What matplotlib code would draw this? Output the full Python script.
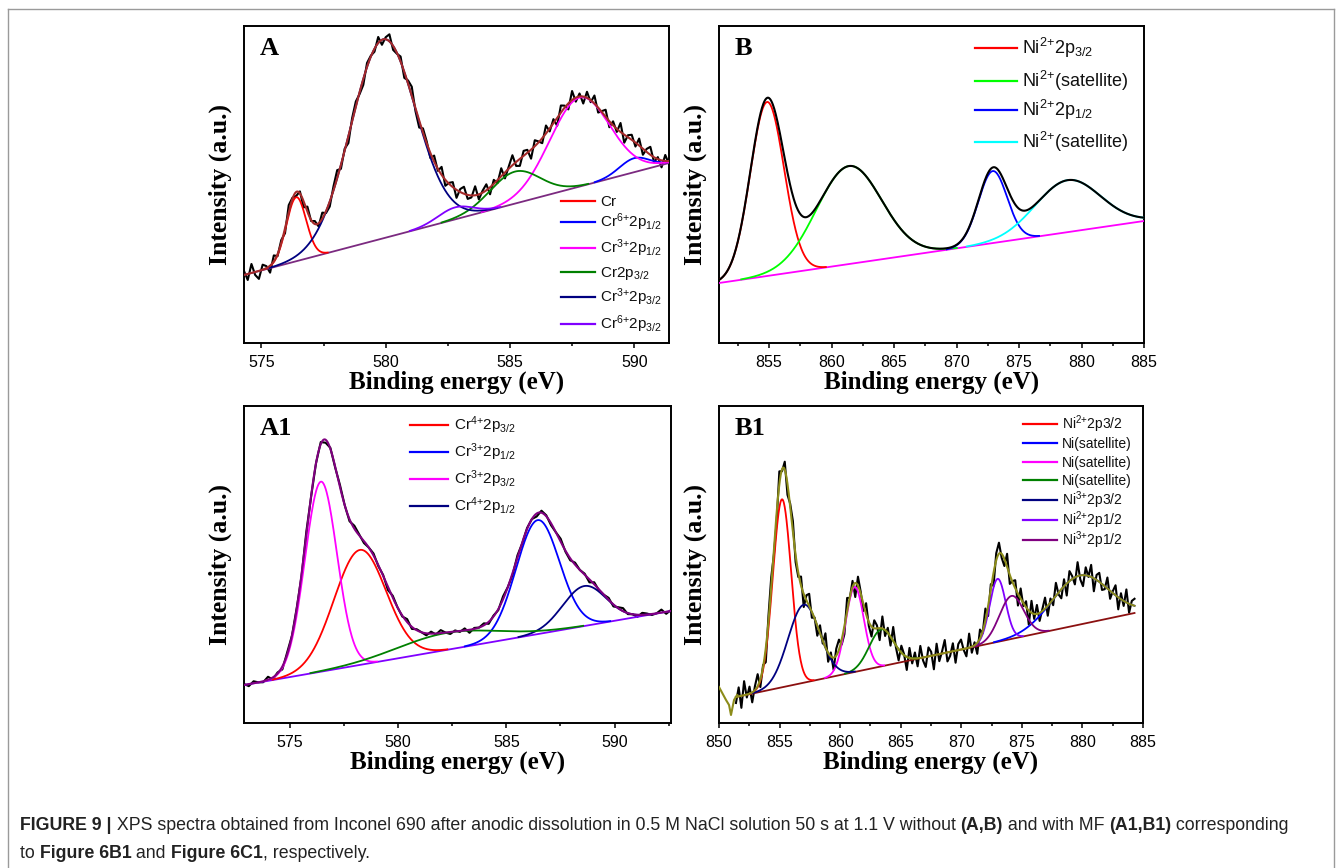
import numpy as np
import matplotlib.pyplot as plt
from matplotlib.lines import Line2D
from matplotlib.ticker import MultipleLocator

plt.rcParams['font.family'] = ['Liberation Sans', 'DejaVu Sans']
plt.rcParams['mathtext.fontset'] = 'custom'
plt.rcParams['mathtext.rm'] = 'Liberation Sans'
plt.rcParams['mathtext.it'] = 'Liberation Sans:italic'
plt.rcParams['mathtext.bf'] = 'Liberation Sans:bold'
plt.rcParams['mathtext.default'] = 'regular'

W, H = 1342, 868

# ---------------- panel A : Cr 2p, without MF ----------------
a_xlim = (574.3, 591.4)
a_ticks = [575, 580, 585, 590]
a_bg_e = [574.3, 591.4]
a_bg_i = [68, 180]
a_labels = ['Cr', 'Cr$^{6{+}}$2p$_{1/2}$', 'Cr$^{3{+}}$2p$_{1/2}$', 'Cr2p$_{3/2}$',
            'Cr$^{3{+}}$2p$_{3/2}$', 'Cr$^{6{+}}$2p$_{3/2}$']
a_colors = ['#ff0000', '#0000ff', '#ff00ff', '#008000', '#000080', '#8000ff']
a_center = [576.4, 590.0, 587.8, 585.2, 579.9, 582.8]
a_height = [64, 14, 89, 32, 199, 12]
a_sigma = [0.40, 0.60, 1.20, 1.00, 1.30, 0.70]
a_noise = [4, -6, 9, -3, -8, 5, 2, -7, 6, -2, 3, -5, 7, 1, -4, 2, -6, 5, -1, 3,
           -3, 6, -2, -5, 4, 8, -4, 2, -7, 3, 5, -2, -6, 4, 1, -3, 6, -5, 2, 7,
           -4, -1, 5, -6, 3, 9, -3, -7, 4, 2, -5, 6, -2, 8, -6, 1, 5, -8, 3, 7,
           -4, -2, 9, -5, 2, 6, -7, 4, -3, 8, -6, 2, 10, -4, -7, 5, 3, -9, 6, 1,
           -5, 8, -3, 4, -8, 7, 2, -6, 9, -4, 3, -7, 6, -2, 8, -5, 1, 7, -6, 4,
           -3, 9, -8, 2, 5, -4, 7, -6, 3, 8, -5, 2, -7, 6, -3]

# ---------------- panel B : Ni 2p, without MF ----------------
b_xlim = (851, 885)
b_ticks = [855, 860, 865, 870, 875, 880, 885]
b_bg_e = [851, 885]
b_bg_i = [60, 122]
b_labels = ['Ni$^{2{+}}$2p$_{3/2}$', 'Ni$^{2{+}}$(satellite)', 'Ni$^{2{+}}$2p$_{1/2}$',
            'Ni$^{2{+}}$(satellite)']
b_colors = ['#ff0000', '#00ff00', '#0000ff', '#00ffff']
b_center = [854.85, 861.4, 872.9, 878.9]
b_height = [174, 98, 72, 52]
b_sigma = [1.35, 2.6, 1.15, 2.6]

# ---------------- panel A1 : Cr 2p, with MF ----------------
a1_xlim = (572.9, 592.6)
a1_ticks = [575, 580, 585, 590]
a1_bg_e = [572.9, 592.6]
a1_bg_i = [38, 112]
a1_labels = ['Cr$^{4{+}}$2p$_{3/2}$', 'Cr$^{3{+}}$2p$_{1/2}$', 'Cr$^{3{+}}$2p$_{3/2}$',
             'Cr$^{4{+}}$2p$_{1/2}$', None]
a1_colors = ['#ff0000', '#0000ff', '#ff00ff', '#000080', '#008000']
a1_center = [578.25, 586.45, 576.45, 588.6, 582.25]
a1_height = [115, 114, 190, 40, 17]
a1_sigma = [1.20, 1.00, 0.74, 1.00, 2.30]
a1_noise = [1, -2, 2, 0, -1, 3, -2, 1, -3, 2, 0, 1, -2, 3, -1, 0, 2, -3, 1, -1,
            2, 0, -2, 3, 1, -2, 0, 2, -1, 1, -3, 2, 0, -1, 3, -2, 1, 0, -2, 2,
            -1, 3, 0, -2, 1, -1, 2, -3, 1, 0, 2, -2, 1, -1, 3, 0, -2, 2, -1, 1,
            0, -3, 2, 1, -2, 0, 3, -1, -2, 2, 0, 1, -3, 2, -1, 0, 2, -2, 1, 3,
            -1, 0, -2, 2, 1, -1, 0, 3, -2, 1]

# ---------------- panel B1 : Ni 2p, with MF ----------------
b1_xlim = (850, 885)
b1_ticks = [850, 855, 860, 865, 870, 875, 880, 885]
b1_bg_e = [851.4, 884.3]
b1_bg_i = [26, 110]
b1_labels = ['Ni$^{2{+}}$2p3/2', 'Ni(satellite)', 'Ni(satellite)', 'Ni(satellite)',
             'Ni$^{3{+}}$2p3/2', 'Ni$^{2{+}}$2p1/2', 'Ni$^{3{+}}$2p1/2']
b1_colors = ['#ff0000', '#0000ff', '#ff00ff', '#008000', '#000080', '#8000ff', '#800080']
b1_center = [855.2, 879.8, 861.2, 863.4, 857.0, 873.0, 874.15]
b1_height = [188, 49, 85, 37, 78, 63, 43]
b1_sigma = [0.75, 2.3, 0.75, 1.0, 1.3, 0.66, 1.0]
b1_noise = [-6, 9, -12, 14, -3, 7, -10, 4, 12, -8, 2, -14, 6, 10, -5, -9, 13, -2, 8, -11,
            3, 11, -7, -4, 9, -13, 5, 12, -6, 1, -10, 8, -3, 14, -9, 4, -12, 7, 10, -5,
            -8, 13, -1, 6, -14, 9, 2, -7, 11, -4, -10, 8, 3, -12, 12, -6, 5, -9, 14, -2,
            -11, 7, 1, -13, 10, -5, 6, -8, 12, -3, -10, 9, 4, -14, 11, -7, 2, 13, -9, -4,
            8, -12, 6, 10, -1, -8, 14, -6, 3, -11, 9, -2, 12, -10, 5, -13, 7, 11, -4, -7,
            13, -9, 1, 8, -12, 10, -3, 6, -14, 12, -5, 9, -8, 2, 11, -10, 4, -6, 13, -2,
            -9, 7, -12, 10, 3, -7, 14, -4, -11, 8, -1, 12, -13, 5, 9, -6, -3, 11, -8, 2,
            10, -12, 6, -5, 13, -9, 4, 7]
# wiggly start of the olive envelope below the fitted range
b1_lead_e = [850.0, 850.58, 850.83, 850.99, 851.24, 851.49]
b1_lead_i = [36, 23, 18, 8, 23, 28]


def gauss(e, c, h, s):
    return h * np.exp(-0.5 * ((e - c) / s) ** 2)


def envelope(e, bg_e, bg_i, centers, heights, sigmas):
    tot = np.interp(e, bg_e, bg_i)
    for c, h, s in zip(centers, heights, sigmas):
        tot = tot + gauss(e, c, h, s)
    return tot


def draw_panel(ax, xlim, ticks, bg_e, bg_i, labels, colors, centers, heights, sigmas,
               bg_color, env_color, noise=None, lw=1.3):
    e = np.linspace(bg_e[0], bg_e[1], 900)
    base = np.interp(e, bg_e, bg_i)
    if noise is not None:
        er = np.linspace(bg_e[0], bg_e[1], len(noise))
        raw = envelope(er, bg_e, bg_i, centers, heights, sigmas) + np.array(noise)
        ax.plot(er, raw, color='black', lw=1.5, zorder=2)
    ax.plot(bg_e, bg_i, color=bg_color, lw=lw, zorder=3)
    for col, c, h, s in zip(colors, centers, heights, sigmas):
        g = gauss(e, c, h, s)
        y = np.where(g > 0.4, base + g, np.nan)
        ax.plot(e, y, color=col, lw=lw, zorder=4)
    env = envelope(e, bg_e, bg_i, centers, heights, sigmas)
    ax.plot(e, env, color=env_color, lw=1.5, zorder=5)
    ax.set_xlim(*xlim)
    ax.set_ylim(0, 317)
    ax.set_xticks(ticks)
    ax.xaxis.set_minor_locator(MultipleLocator(2.5))
    ax.set_yticks([])
    ax.tick_params(axis='x', which='major', length=3.8, width=1.1, labelsize=11.5, pad=5)
    ax.tick_params(axis='x', which='minor', length=2.4, width=1.1)
    for sp in ax.spines.values():
        sp.set_linewidth(1.4)
    ax.set_xlabel('Binding energy (eV)', family='Liberation Serif', weight='bold', fontsize=18)
    ax.xaxis.set_label_coords(0.5, -0.088)
    ax.set_ylabel('Intensity (a.u.)', family='Liberation Serif', weight='bold', fontsize=18.5)
    ax.yaxis.set_label_coords(-0.028, 0.5)


fig = plt.figure(figsize=(W / 100, H / 100), dpi=100)


def axes_px(x0, y0, x1, y1):
    return fig.add_axes([x0 / W, 1 - y1 / H, (x1 - x0) / W, (y1 - y0) / H])


ax_a = axes_px(244, 26, 669, 343)
ax_b = axes_px(719, 26, 1144, 343)
ax_a1 = axes_px(244, 406, 671, 723)
ax_b1 = axes_px(719, 406, 1143, 723)

draw_panel(ax_a, a_xlim, a_ticks, a_bg_e, a_bg_i, a_labels, a_colors,
           a_center, a_height, a_sigma, '#7b2a80', '#a52a2a', a_noise)
draw_panel(ax_b, b_xlim, b_ticks, b_bg_e, b_bg_i, b_labels, b_colors,
           b_center, b_height, b_sigma, '#ff00ff', 'black', None)
draw_panel(ax_a1, a1_xlim, a1_ticks, a1_bg_e, a1_bg_i, a1_labels, a1_colors,
           a1_center, a1_height, a1_sigma, '#8000ff', '#800080', a1_noise)
draw_panel(ax_b1, b1_xlim, b1_ticks, b1_bg_e, b1_bg_i, b1_labels, b1_colors,
           b1_center, b1_height, b1_sigma, '#8b1010', '#8c8c1a', b1_noise)
ax_b1.plot(b1_lead_e, b1_lead_i, color='#8c8c1a', lw=1.5, zorder=5)


def put_legend(labels, colors, hx0, hx1, tx, rows, size):
    # legend rows laid out at fixed pixel centres, like the original key
    cap_half = 0.358 * size * 100 / 72
    k = 0
    for lab, col in zip(labels, colors):
        if lab is None:
            continue
        yc = rows[k]
        k += 1
        fig.add_artist(Line2D([hx0 / W, hx1 / W], [1 - yc / H, 1 - yc / H],
                              transform=fig.transFigure, color=col, lw=1.6))
        fig.text(tx / W, 1 - (yc + cap_half) / H, lab, fontsize=size,
                 ha='left', va='baseline', color='#111111')


put_legend(a_labels, a_colors, 561, 595, 600, [201, 222, 248, 272, 297, 324], 11)
put_legend(b_labels, b_colors, 975, 1017, 1022, [48, 81, 110, 142], 13)
put_legend(a1_labels, a1_colors, 410, 448, 454, [425, 452, 479, 506], 11)
put_legend(b1_labels, b1_colors, 1023, 1057, 1062, [424, 443, 462, 480, 500, 520, 540], 10)

for ax, lab in [(ax_a, 'A'), (ax_b, 'B'), (ax_a1, 'A1'), (ax_b1, 'B1')]:
    ax.text(0.036, 0.965, lab, transform=ax.transAxes, ha='left', va='top',
            family='Liberation Serif', weight='bold', fontsize=19)

# page frame
frame_col = '#9a9a9a'
fig.add_artist(Line2D([8 / W, 1334 / W], [1 - 9 / H, 1 - 9 / H], transform=fig.transFigure,
                      color=frame_col, lw=1))
fig.add_artist(Line2D([8 / W, 8 / W], [0, 1 - 9 / H], transform=fig.transFigure,
                      color=frame_col, lw=1))
fig.add_artist(Line2D([1334 / W, 1334 / W], [0, 1 - 9 / H], transform=fig.transFigure,
                      color=frame_col, lw=1))

# caption
cap1 = [('FIGURE 9 |', True),
        (' XPS spectra obtained from Inconel 690 after anodic dissolution in 0.5 M NaCl '
         'solution 50 s at 1.1 V without ', False),
        ('(A,B)', True), (' and with MF ', False), ('(A1,B1)', True),
        (' corresponding', False)]
cap2 = [('to ', False), ('Figure 6B1', True), (' and ', False), ('Figure 6C1', True),
        (', respectively.', False)]

renderer = fig.canvas.get_renderer()


def draw_line(parts, x0, y, size):
    x = x0
    arts = []
    for txt, bold in parts:
        t = fig.text(x / W, 1 - y / H, txt, fontsize=size, weight='bold' if bold else 'normal',
                     va='center', ha='left', color='#222222')
        x += t.get_window_extent(renderer).width
        arts.append(t)
    return x - x0, arts


size0 = 11
wid, arts = draw_line(cap1, 20, 826, size0)
for t in arts:
    t.remove()
size = size0 * 1268 / wid
draw_line(cap1, 20, 826, size)
draw_line(cap2, 20, 853, size)

fig.savefig('out.png', dpi=100)
